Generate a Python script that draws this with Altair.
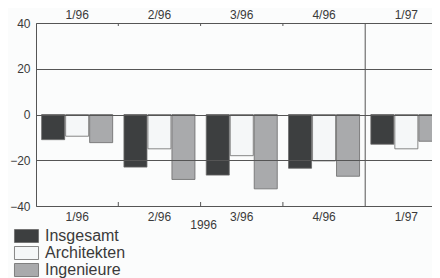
import altair as alt
import pandas as pd

quarters = ["1/96", "2/96", "3/96", "4/96", "1/97"]
series = ["Insgesamt", "Architekten", "Ingenieure"]
insgesamt = [-11.0, -23.0, -26.5, -23.5, -13.0]
architekten = [-9.5, -15.0, -18.0, -20.3, -15.0]
ingenieure = [-12.3, -28.4, -32.5, -27.0, -11.7]
colors = ["#3d3f40", "#f5f7f8", "#a9aaac"]
y_ticks = [-40, -20, 0, 20, 40]
tick_quarters = ["2/96", "3/96", "4/96"]
year_start = ["1/97"]
year_label = "1996"

rows = []
for s, vals in zip(series, [insgesamt, architekten, ingenieure]):
    for q, v in zip(quarters, vals):
        rows.append({"Quartal": q, "Gruppe": s, "Wert": v})
df = pd.DataFrame(rows)
ticks_df = pd.DataFrame({"Quartal": tick_quarters})
year_df = pd.DataFrame({"Quartal": year_start})

W, H = 396, 183
FULL = 411.5
LINE = "#555555"
TXT = "#3a3a3a"
FONT = "Liberation Sans"

xscale = alt.Scale(domain=quarters, range=[0, FULL], paddingInner=0, paddingOuter=0)
yscale = alt.Scale(domain=[-40, 40], nice=False)

bars = alt.Chart(df).mark_bar(stroke="#6a6a6a", strokeWidth=0.8).encode(
    x=alt.X("Quartal:N", scale=xscale, sort=quarters,
            axis=alt.Axis(orient="bottom", title=None, labelAngle=0, ticks=False,
                          domain=True, domainColor=LINE, labelPadding=5,
                          labelFontSize=12, labelColor=TXT, labelFont=FONT)),
    xOffset=alt.XOffset("Gruppe:N", sort=series,
                        scale=alt.Scale(paddingInner=0.04, paddingOuter=0.235)),
    y=alt.Y("Wert:Q", scale=yscale,
            axis=alt.Axis(values=y_ticks, title=None, ticks=False, grid=True,
                          gridColor=LINE, gridOpacity=1, gridWidth=1,
                          domain=True, domainColor=LINE, labelPadding=6,
                          labelFontSize=12, labelColor=TXT, labelFont=FONT,
                          zindex=1)),
    color=alt.Color("Gruppe:N", sort=series,
                    scale=alt.Scale(domain=series, range=colors),
                    legend=alt.Legend(orient="none", legendX=-17.5, legendY=205,
                                      title=None, symbolType="M-1.85,-1H1.85V1H-1.85Z",
                                      symbolSize=169, symbolStrokeColor="#6a6a6a",
                                      symbolStrokeWidth=0.8, symbolOpacity=1,
                                      labelFontSize=16, labelColor=TXT, labelFont=FONT,
                                      labelOffset=10.5, rowPadding=-1, padding=0)),
)

top_ticks = alt.Chart(ticks_df).mark_rule(color=LINE, strokeWidth=1).encode(
    x=alt.X("Quartal:N", scale=xscale, sort=quarters, bandPosition=0,
            axis=alt.Axis(orient="top", title=None, labelAngle=0, ticks=False,
                          domain=True, domainColor=LINE, labelPadding=2,
                          labelFontSize=12, labelColor=TXT, labelFont=FONT,
                          values=quarters)),
    y=alt.value(0),
    y2=alt.value(3),
)

bottom_ticks = alt.Chart(ticks_df).mark_rule(color=LINE, strokeWidth=1).encode(
    x=alt.X("Quartal:N", scale=xscale, sort=quarters, bandPosition=0, axis=None),
    y=alt.value(H - 4),
    y2=alt.value(H),
)

year_line = alt.Chart(year_df).mark_rule(color=LINE, strokeWidth=1).encode(
    x=alt.X("Quartal:N", scale=xscale, sort=quarters, bandPosition=0, axis=None),
    y=alt.value(0),
    y2=alt.value(H),
)

year_text = alt.Chart(pd.DataFrame({"Quartal": ["3/96"], "t": [year_label]})).mark_text(
    fontSize=12, color=TXT, font=FONT, baseline="middle", align="center", dx=3
).encode(
    x=alt.X("Quartal:N", scale=xscale, sort=quarters, bandPosition=0, axis=None),
    y=alt.value(H + 19),
    text="t:N",
)

chart = alt.layer(bars, top_ticks, bottom_ticks, year_line, year_text).resolve_axis(
    x="independent"
).properties(
    width=W, height=H,
    autosize=alt.AutoSizeParams(type="none"),
    padding={"left": 28, "top": 15, "right": 0, "bottom": 72},
    background="#fbfcfc",
).configure_view(strokeWidth=0)

chart.save("out.html", embed_options={"renderer": "svg", "actions": False})
